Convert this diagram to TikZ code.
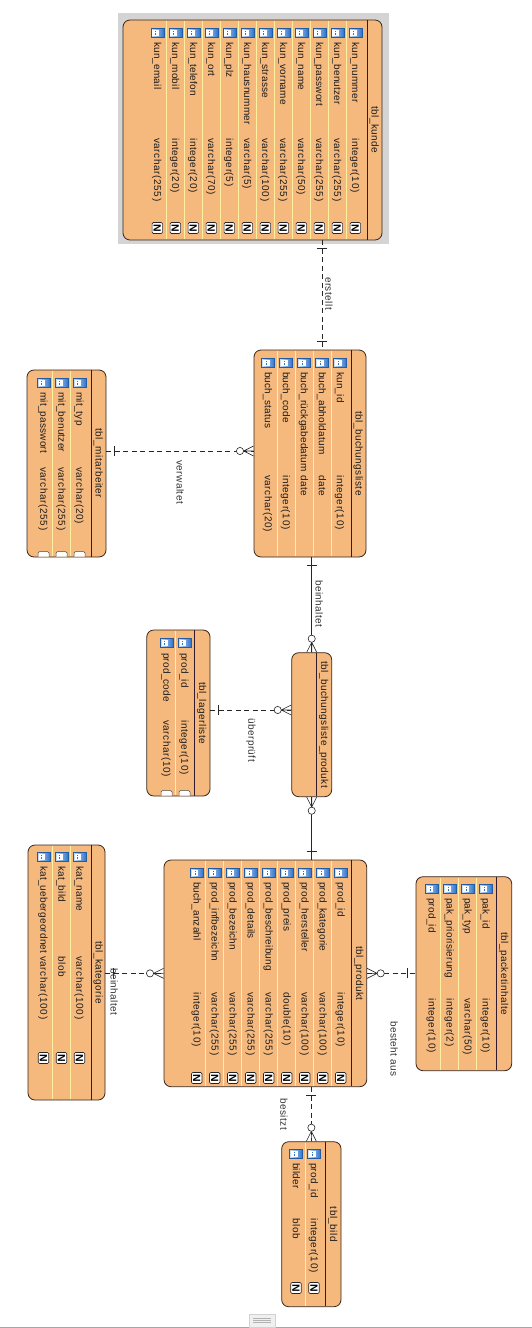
\documentclass[tikz,border=0pt]{standalone}
\usepackage{fontspec}
\newfontfamily\erfontN[LetterSpace=2]{Liberation Sans}
\newfontfamily\erfontT[LetterSpace=6]{Liberation Sans}
\newfontfamily\erfontL[LetterSpace=4.5]{Liberation Sans}
\newfontfamily\erfontB{Liberation Sans}
\definecolor{boxfill}{RGB}{245,184,125}
\definecolor{boxedge}{RGB}{55,38,30}
\definecolor{ttlline}{RGB}{50,25,45}
\definecolor{rowsep}{RGB}{255,240,160}
\definecolor{icolight}{RGB}{205,228,250}
\definecolor{icodark}{RGB}{45,115,205}
\definecolor{txt}{RGB}{28,28,28}
\definecolor{bggray}{RGB}{212,212,212}
\tikzset{
 tblbox/.style={draw=boxedge, fill=boxfill, rounded corners=7pt, line width=0.8pt, inner sep=0},
 ertext/.style={text=txt, rotate=-90, inner sep=0},
 fld/.style={ertext, anchor=base west, font=\erfontN\fontsize{10}{12}\selectfont},
 typ/.style={ertext, anchor=base west, font=\erfontT\fontsize{10}{12}\selectfont},
 ttl/.style={ertext, anchor=base, font=\erfontL\fontsize{10}{12}\selectfont},
 lbl/.style={ertext, anchor=base west, text=black!80, font=\erfontL\fontsize{10}{12}\selectfont},
 rowsepline/.style={draw=rowsep, line width=0.7pt},
 ttlsep/.style={draw=ttlline, line width=0.8pt},
 nmark/.style={draw=black!85, fill=white, rounded corners=1.3pt, minimum width=11pt, minimum height=10.5pt, inner sep=0, rotate=-90, line width=0.6pt, font=\erfontB\bfseries\fontsize{10.5}{10}\selectfont},
 conn/.style={draw=black!85, line width=0.6pt},
 dconn/.style={conn, dash pattern=on 5pt off 3.5pt},
 zmany/.pic={\draw[conn] (0,-5) -- (10,0) -- (0,5) (0,0) -- (10,0); \draw[conn, fill=white] (13.6,0) circle (3.6pt);},
 onemark/.pic={\draw[conn] (8,-5) -- (8,5);},
}
% #1 name, #2 x center, #3 icon top, #4 name y, #5 name, #6 type y, #7 type
\newcommand\ERrow[7]{%
 \draw[draw=icodark!80!black, line width=0.4pt, left color=icolight, right color=icodark] (#2-6.5,#3) rectangle (#2+6.5,#3+9.5);
 \fill[white] (#2-5,#3+1.8) rectangle (#2+1.5,#3+7.7);
 \foreach \k in {0,1,2} \fill[icodark] (#2-2.2,#3+2.6+\k*1.9) rectangle (#2-1.2,#3+3.5+\k*1.9);
 \node[fld] (#1-n) at (#2-3.2,#4) {#5};
 \node[typ] (#1-t) at (#2-3.2,#6) {#7};
}
\newcommand\ERcut[2]{%
 \filldraw[fill=white, draw=black!70, line width=0.5pt, rounded corners=1.5pt] (#1-5.5,#2-0.4) -- (#1-5.5,#2-5.5) -- (#1+5.5,#2-5.5) -- (#1+5.5,#2-0.4);
}
\begin{document}
\begin{tikzpicture}[x=1pt,y=-1pt]
\useasboundingbox (0,0) rectangle (532,1328);

% ---------- tbl_kunde ----------
\fill[bggray] (118,13) rectangle (389,244);
\node[tblbox, minimum width=259pt, minimum height=220pt] (kunde) at (252.5,130) {};
\foreach \s in {0,...,10} \draw[rowsepline] (166.3+18*\s,20.8) -- (166.3+18*\s,239.2);
\draw[ttlsep] (367,20.4) -- (367,239.6);
\node[ttl] (kunde-ttl) at (371.5,130) {tbl\_kunde};
\ERrow{k1}{355.3}{28}{42}{kun\_nummer}{138}{integer(10)}
\ERrow{k2}{337.3}{28}{42}{kun\_benutzer}{138}{varchar(255)}
\ERrow{k3}{319.3}{28}{42}{kun\_passwort}{138}{varchar(255)}
\ERrow{k4}{301.3}{28}{42}{kun\_name}{138}{varchar(50)}
\ERrow{k5}{283.3}{28}{42}{kun\_vorname}{138}{varchar(255)}
\ERrow{k6}{265.3}{28}{42}{kun\_strasse}{138}{varchar(100)}
\ERrow{k7}{247.3}{28}{42}{kun\_hausnummer}{138}{varchar(5)}
\ERrow{k8}{229.3}{28}{42}{kun\_plz}{138}{integer(5)}
\ERrow{k9}{211.3}{28}{42}{kun\_ort}{138}{varchar(70)}
\ERrow{k10}{193.3}{28}{42}{kun\_telefon}{138}{integer(20)}
\ERrow{k11}{175.3}{28}{42}{kun\_mobil}{138}{integer(20)}
\ERrow{k12}{157.3}{28}{42}{kun\_email}{138}{varchar(255)}
\foreach \r in {1,...,12} \node[nmark] (kN\r) at (373.3-18*\r,228) {N};

% ---------- tbl_buchungsliste ----------
\node[tblbox, minimum width=112pt, minimum height=207pt] (buch) at (310,453.5) {};
\foreach \s in {277,295,313,331} \draw[rowsepline] (\s,350.8) -- (\s,556.2);
\draw[ttlsep] (351,350.4) -- (351,556.6);
\node[ttl] (buch-ttl) at (355.5,453.5) {tbl\_buchungsliste};
\ERrow{b1}{340}{358}{372}{kun\_id}{475}{integer(10)}
\ERrow{b2}{322}{358}{372}{buch\_abholdatum}{475}{date}
\ERrow{b3}{304}{358}{372}{buch\_rückgabedatum}{475}{date}
\ERrow{b4}{286}{358}{372}{buch\_code}{475}{integer(10)}
\ERrow{b5}{268}{358}{372}{buch\_status}{475}{varchar(20)}

% ---------- tbl_mitarbeiter ----------
\node[tblbox, minimum width=79pt, minimum height=187pt] (mit) at (66.5,463.5) {};
\foreach \s in {52.5,70.5} \draw[rowsepline] (\s,370.8) -- (\s,556.2);
\draw[ttlsep] (91,370.4) -- (91,556.6);
\node[ttl] (mit-ttl) at (95.5,463.5) {tbl\_mitarbeiter};
\ERrow{m1}{79.5}{378}{392}{mit\_typ}{467}{varchar(20)}
\ERrow{m2}{61.5}{378}{392}{mit\_benutzer}{467}{varchar(255)}
\ERrow{m3}{43.5}{378}{392}{mit\_passwort}{467}{varchar(255)}
\ERcut{79.5}{557}\ERcut{61.5}{557}\ERcut{43.5}{557}

% ---------- tbl_lagerliste ----------
\node[tblbox, minimum width=63.3pt, minimum height=166pt] (lager) at (178.4,713) {};
\draw[rowsepline] (175.5,630.8) -- (175.5,795.2);
\draw[ttlsep] (194.3,630.4) -- (194.3,795.6);
\node[ttl] (lager-ttl) at (199.2,713) {tbl\_lagerliste};
\ERrow{l1}{184.5}{638}{653}{prod\_id}{720}{integer(10)}
\ERrow{l2}{166.5}{638}{653}{prod\_code}{720}{varchar(10)}
\ERcut{184.5}{796}\ERcut{166.5}{796}

% ---------- tbl_buchungsliste_produkt ----------
\node[tblbox, minimum width=40pt, minimum height=144pt] (bp) at (311.7,724.7) {};
\draw[ttlsep] (316.7,653.1) -- (316.7,796.3);
\node[ttl] (bp-ttl) at (321.2,724.7) {tbl\_buchungsliste\_produkt};

% ---------- tbl_produkt ----------
\node[tblbox, minimum width=202.7pt, minimum height=226.7pt] (prod) at (265.35,973.35) {};
\foreach \s in {0,...,7} \draw[rowsepline] (205.7+18*\s,860.8) -- (205.7+18*\s,1085.9);
\draw[ttlsep] (351.7,860.4) -- (351.7,1086.3);
\node[ttl] (prod-ttl) at (356.2,973.35) {tbl\_produkt};
\ERrow{p1}{340.7}{868}{882}{prod\_id}{992}{integer(10)}
\ERrow{p2}{322.7}{868}{882}{prod\_kategorie}{992}{varchar(100)}
\ERrow{p3}{304.7}{868}{882}{prod\_hersteller}{992}{varchar(100)}
\ERrow{p4}{286.7}{868}{882}{prod\_preis}{992}{double(10)}
\ERrow{p5}{268.7}{868}{882}{prod\_beschreibung}{992}{varchar(255)}
\ERrow{p6}{250.7}{868}{882}{prod\_details}{992}{varchar(255)}
\ERrow{p7}{232.7}{868}{882}{prod\_bezeichn}{992}{varchar(255)}
\ERrow{p8}{214.7}{868}{882}{prod\_infbezeichn}{992}{varchar(255)}
\ERrow{p9}{196.7}{868}{882}{buch\_anzahl}{992}{integer(10)}
\foreach \r in {1,...,9} \node[nmark] (pN\r) at (358.7-18*\r,1078) {N};

% ---------- tbl_kategorie ----------
\node[tblbox, minimum width=77pt, minimum height=255pt] (kat) at (66.5,972.5) {};
\foreach \s in {52.5,70.5} \draw[rowsepline] (\s,845.8) -- (\s,1099.2);
\draw[ttlsep] (91,845.4) -- (91,1099.6);
\node[ttl] (kat-ttl) at (95.5,972.5) {tbl\_kategorie};
\ERrow{c1}{79.5}{852}{866}{kat\_name}{956}{varchar(100)}
\ERrow{c2}{61.5}{852}{866}{kat\_bild}{956}{blob}
\ERrow{c3}{43.5}{852}{866}{kat\_uebergeordnet}{956}{varchar(100)}
\foreach \r/\x in {1/79.5,2/61.5,3/43.5} \node[nmark] (cN\r) at (\x,1058) {N};

% ---------- tbl_packetinhalte ----------
\node[tblbox, minimum width=95.7pt, minimum height=194pt] (pak) at (463.85,973.7) {};
\foreach \s in {440.7,458.7,476.7} \draw[rowsepline] (\s,877.5) -- (\s,1069.9);
\draw[ttlsep] (496.7,877.1) -- (496.7,1070.3);
\node[ttl] (pak-ttl) at (501.2,973.7) {tbl\_packetinhalte};
\ERrow{a1}{485.7}{884}{898}{pak\_id}{998}{integer(10)}
\ERrow{a2}{467.7}{884}{898}{pak\_typ}{998}{varchar(50)}
\ERrow{a3}{449.7}{884}{898}{pak\_priorisierung}{998}{integer(2)}
\ERrow{a4}{431.7}{884}{898}{prod\_id}{998}{integer(10)}

% ---------- tbl_bild ----------
\node[tblbox, minimum width=59.3pt, minimum height=165pt] (bild) at (311.35,1224.2) {};
\draw[rowsepline] (305,1142.5) -- (305,1305.9);
\draw[ttlsep] (325,1142.1) -- (325,1306.3);
\node[ttl] (bild-ttl) at (330,1224.2) {tbl\_bild};
\ERrow{i1}{314}{1149}{1163}{prod\_id}{1218}{integer(10)}
\ERrow{i2}{296}{1149}{1163}{bilder}{1218}{blob}
\foreach \r/\x in {1/314,2/296} \node[nmark] (iN\r) at (\x,1288) {N};

% ---------- connectors ----------
\coordinate (cxA) at (322.3,0);
\coordinate (cyA) at (0,451);
\coordinate (cyB) at (0,710);
% erstellt
\draw[dconn] (kunde.south -| cxA) -- (buch.north -| cxA);
\pic[rotate=-90] at (kunde.south -| cxA) {onemark};
\pic[rotate=90] at (buch.north -| cxA) {onemark};
\node[lbl] (l-erstellt) at (325.3,277) {erstellt};
% verwaltet
\draw[dconn] (mit.east |- cyA) -- (buch.west |- cyA);
\pic at (mit.east |- cyA) {onemark};
\pic[rotate=180] at (buch.west |- cyA) {zmany};
\node[lbl] (l-verwaltet) at (176.5,460) {verwaltet};
% beinhaltet (buchungsliste - buchungsliste_produkt)
\draw[conn] (buch.south -| bp.north) -- (bp.north);
\pic[rotate=-90] at (buch.south -| bp.north) {onemark};
\pic[rotate=90] at (bp.north) {zmany};
\node[lbl] (l-beinhaltet1) at (315.5,580) {beinhaltet};
% ueberprueft
\draw[dconn] (lager.east |- cyB) -- (bp.west |- cyB);
\pic at (lager.east |- cyB) {onemark};
\pic[rotate=180] at (bp.west |- cyB) {zmany};
\node[lbl] (l-ueberprueft) at (248.3,718) {überprüft};
% buchungsliste_produkt - produkt
\draw[conn] (bp.south) -- (prod.north -| bp.south);
\pic[rotate=-90] at (bp.south) {zmany};
\pic[rotate=90] at (prod.north -| bp.south) {onemark};
% beinhaltet (kategorie - produkt)
\draw[dconn] (kat.east |- prod.west) -- (prod.west);
\pic at (kat.east |- prod.west) {onemark};
\pic[rotate=180] at (prod.west) {zmany};
\node[lbl] (l-beinhaltet2) at (110.5,968) {beinhaltet};
% besteht aus
\draw[dconn] (prod.east) -- (pak.west |- prod.east);
\pic at (prod.east) {zmany};
\pic[rotate=180] at (pak.west |- prod.east) {onemark};
\node[lbl] (l-besteht) at (390.5,1021) {besteht aus};
% besitzt
\draw[dconn] (prod.south -| bild.north) -- (bild.north);
\pic[rotate=-90] at (prod.south -| bild.north) {onemark};
\pic[rotate=90] at (bild.north) {zmany};
\node[lbl] (l-besitzt) at (280.3,1098) {besitzt};

% ---------- bottom bar ----------
\draw[draw=gray!70, line width=1pt] (0,1327.4) -- (532,1327.4);
\filldraw[fill=gray!12, draw=gray!35, line width=0.5pt] (249,1314) rectangle (275,1327);
\foreach \yy in {1318.2,1320.4,1322.6} \draw[draw=gray!60, line width=0.5pt] (253,\yy) -- (271,\yy);
\end{tikzpicture}
\end{document}
